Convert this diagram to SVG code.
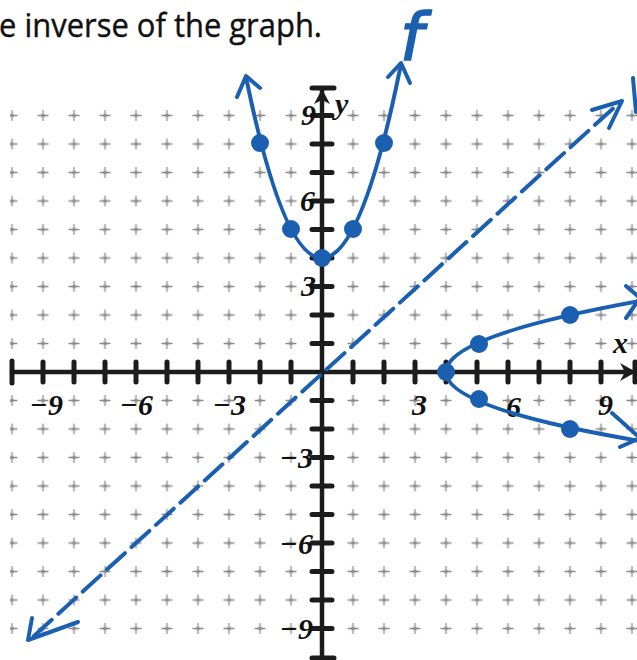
<svg xmlns="http://www.w3.org/2000/svg" width="637" height="660" viewBox="0 0 637 660">
<style>
.ax{stroke:#1c1c1c;stroke-width:4.5;fill:none;stroke-linecap:round}
.tk{stroke:#1c1c1c;stroke-width:5;fill:none;stroke-linecap:round}
.num{font-family:"Liberation Serif",serif;font-weight:bold;font-style:italic;font-size:30px;fill:#111}
.ink{stroke:#1b5fb0;stroke-width:4;fill:none;stroke-linecap:round;stroke-linejoin:round}
.dot{fill:#1b5fb0}
</style>
<defs>
<pattern id="gp" patternUnits="userSpaceOnUse" x="-3.5" y="101.25" width="31" height="28.5">
<g transform="translate(15.5,14.25)" stroke="#8a8a8a" fill="none">
<path d="M-5.5,0H5.5M0,-5.5V5.5" stroke-width="1.3"/>
<path d="M-2,-1.6L2,1.6M-2,1.6L2,-1.6" stroke-width="0.9"/>
</g>
</pattern>
</defs>
<rect width="637" height="660" fill="#fff"/>
<text x="-1" y="37" font-family="'Open Sans',sans-serif" font-size="33" fill="#111" stroke="#111" stroke-width="0.4" textLength="323" lengthAdjust="spacingAndGlyphs">e inverse of the graph.</text>
<g id="grid">
<rect x="10" y="101" width="627" height="542" fill="url(#gp)"/>
<rect x="0" y="365" width="637" height="14" fill="#fff"/>
<rect x="315" y="80" width="14" height="580" fill="#fff"/>
</g>
<g id="x-axis">
<path class="ax" d="M12,372H632"/>
<path class="tk" d="M12,361V383M635,362V382"/>
<path class="tk" d="M43,362V382M74,362V382M105,362V382M136,362V382M167,362V382M198,362V382M229,362V382M260,362V382M291,362V382M353,362V382M384,362V382M415,362V382M446,362V382M477,362V382M508,362V382M539,362V382M570,362V382M601,362V382"/>
<polygon points="636,372 620,363 625,372 620,381" fill="#1c1c1c"/>
<text class="num" x="63" y="415" text-anchor="end">−9</text>
<text class="num" x="153" y="415" text-anchor="end">−6</text>
<text class="num" x="246" y="415" text-anchor="end">−3</text>
<text class="num" x="427" y="415" text-anchor="end">3</text>
<text class="num" x="521" y="417" text-anchor="end">6</text>
<text class="num" x="613" y="415" text-anchor="end">9</text>
<text class="num" x="613" y="353" font-size="28">x</text>
</g>
<g id="y-axis">
<path class="ax" d="M322,88V658"/>
<path class="tk" d="M312,88H334M312,658H334"/>
<path class="tk" d="M312,115.5H332M312,144H332M312,172.5H332M312,201H332M312,229.5H332M312,258H332M312,286.5H332M312,315H332M312,343.5H332M312,400.5H332M312,429H332M312,457.5H332M312,486H332M312,514.5H332M312,543H332M312,571.5H332M312,600H332M312,628.5H332"/>
<polygon points="322,89 314,104 322,100 330,104" fill="#1c1c1c"/>
<text class="num" x="316" y="125" text-anchor="end">9</text>
<text class="num" x="315" y="211" text-anchor="end">6</text>
<text class="num" x="316" y="296" text-anchor="end">3</text>
<text class="num" x="313" y="468" text-anchor="end">−3</text>
<text class="num" x="313" y="554" text-anchor="end">−6</text>
<text class="num" x="313" y="639" text-anchor="end">−9</text>
<text class="num" x="335" y="114" font-size="21">y</text>
</g>
<g id="line-y-equals-x">
<path class="ink" d="M34,636L619,103" stroke-dasharray="24 9" stroke-width="3.2"/>
<path class="ink" d="M32,618L28,640L78,622"/>
<path class="ink" d="M592,110L622,101L609,128"/>
</g>
<g id="f">
<path class="ink" d="M246,77 Q283,258 322,258 Q362,258 401,64"/>
<path class="ink" d="M237,97L246,76L260,88"/>
<path class="ink" d="M388,77L401,63L410,83"/>
<circle class="dot" cx="322" cy="258" r="9"/>
<circle class="dot" cx="291" cy="229" r="9"/>
<circle class="dot" cx="353" cy="229" r="9"/>
<circle class="dot" cx="260" cy="143" r="9"/>
<circle class="dot" cx="384" cy="143" r="9"/>
<text x="400" y="60" font-family="'DejaVu Sans',sans-serif" font-style="italic" font-size="66" fill="#1b5fb0" stroke="#1b5fb0" stroke-width="1.6">f</text>
</g>
<g id="inverse">
<path class="ink" d="M640,301 Q446,336 446,372 Q446,408 640,441"/>
<path class="ink" d="M626,286L640,298L626,318"/>
<path class="ink" d="M612,413L640,438L620,447"/>
<path class="ink" d="M633,78L636,112"/>
<circle class="dot" cx="446" cy="372" r="9"/>
<circle class="dot" cx="479" cy="344" r="9"/>
<circle class="dot" cx="479" cy="399" r="9"/>
<circle class="dot" cx="570" cy="315" r="9"/>
<circle class="dot" cx="570" cy="429" r="9"/>
</g>
</svg>
